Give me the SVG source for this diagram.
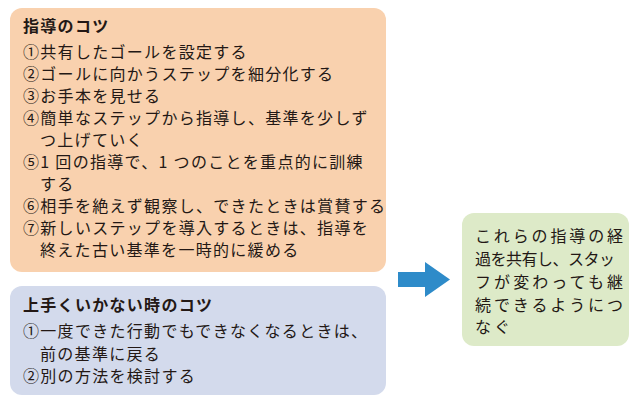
<svg xmlns="http://www.w3.org/2000/svg" width="640" height="401" viewBox="0 0 640 401">
<style>
text{font-family:"Noto Sans CJK JP","Noto Sans CJK SC",sans-serif;font-size:16px;fill:#231815;letter-spacing:1.3px}
.t{font-weight:bold}
.g{letter-spacing:0}
</style>
<rect width="640" height="401" fill="#fff"/>
<g id="tips">
<rect x="10" y="8" width="376" height="264" rx="12" fill="#F9D1AE"/>
<text x="23" y="32" class="t">指導のコツ</text>
<text x="23" y="58">①共有したゴールを設定する</text>
<text x="23" y="80">②ゴールに向かうステップを細分化する</text>
<text x="23" y="102">③お手本を見せる</text>
<text x="23" y="124">④簡単なステップから指導し、基準を少しず</text>
<text x="40" y="146">つ上げていく</text>
<text x="23" y="168">⑤1 回の指導で、1 つのことを重点的に訓練</text>
<text x="40" y="190">する</text>
<text x="23" y="212">⑥相手を絶えず観察し、できたときは賞賛する</text>
<text x="23" y="234">⑦新しいステップを導入するときは、指導を</text>
<text x="40" y="256">終えた古い基準を一時的に緩める</text>
</g>
<g id="trouble">
<rect x="10" y="286" width="376" height="109" rx="12" fill="#D3DAEC"/>
<text x="23" y="311" class="t">上手くいかない時のコツ</text>
<text x="23" y="337">①一度できた行動でもできなくなるときは、</text>
<text x="40" y="360">前の基準に戻る</text>
<text x="23" y="382">②別の方法を検討する</text>
</g>
<g id="connectors">
<polygon points="398,272 425,272 425,262 450,279.5 425,297 425,287 398,287" fill="#2E8BC9"/>
</g>
<g id="result">
<rect x="462" y="213" width="167" height="133" rx="12" fill="#DDEAC8"/>
<text x="475" y="242" class="g" textLength="148" lengthAdjust="spacing">これらの指導の経</text>
<text x="475" y="265" class="g" textLength="140" lengthAdjust="spacing">過を共有し、スタッ</text>
<text x="475" y="288" class="g" textLength="148" lengthAdjust="spacing">フが変わっても継</text>
<text x="475" y="311" class="g" textLength="148" lengthAdjust="spacing">続できるようにつ</text>
<text x="475" y="333" class="g" textLength="35" lengthAdjust="spacing">なぐ</text>
</g>
</svg>
